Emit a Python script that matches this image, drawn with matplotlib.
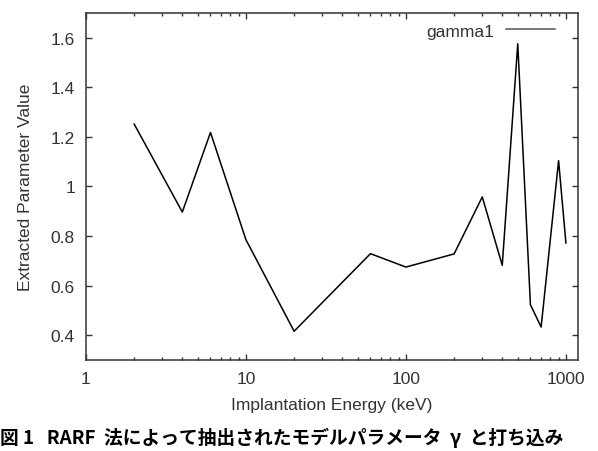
import matplotlib
matplotlib.use('Agg')
import matplotlib.pyplot as plt
from matplotlib.ticker import LogLocator, FixedLocator, NullFormatter

# gamma1 extracted vs implantation energy
energy = [2, 4, 6, 10, 20, 60, 100, 200, 300, 400, 500, 600, 700, 900, 1000]
gamma1 = [1.252, 0.897, 1.218, 0.785, 0.416, 0.729, 0.675, 0.728, 0.958,
          0.682, 1.576, 0.523, 0.433, 1.104, 0.772]

x_ticks = [1, 10, 100, 1000]
x_tick_labels = ['1', '10', '100', '1000']
y_ticks = [0.4, 0.6, 0.8, 1.0, 1.2, 1.4, 1.6]
y_tick_labels = ['0.4', '0.6', '0.8', '1', '1.2', '1.4', '1.6']

caption = '図 1   RARF  法によって抽出されたモデルパラメータ  γ  と打ち込み'

plt.rcParams['font.family'] = ['Liberation Sans', 'DejaVu Sans']

fig = plt.figure(figsize=(5.98, 4.52), dpi=100)
ax = fig.add_axes([86/598, 1 - 361/452, (578 - 86)/598, (361 - 14)/452])

ax.plot(energy, gamma1, color='black', linewidth=1.1, label='gamma1')

ax.set_xscale('log')
ax.set_xlim(1, 1190)
ax.set_ylim(0.3, 1.7)

ax.xaxis.set_major_locator(FixedLocator(x_ticks))
ax.set_xticklabels(x_tick_labels)
ax.xaxis.set_minor_locator(LogLocator(base=10, subs=range(2, 10)))
ax.xaxis.set_minor_formatter(NullFormatter())
ax.set_yticks(y_ticks)
ax.set_yticklabels(y_tick_labels)

ax.tick_params(which='both', direction='in', top=True, right=True,
               colors='#333333', labelcolor='#333333', labelsize=12.5, width=1.0)
ax.tick_params(which='major', length=4.5, pad=8)
ax.tick_params(which='minor', length=2.5)

for s in ax.spines.values():
    s.set_color('#333333')
    s.set_linewidth(1.1)

ax.set_xlabel('Implantation Energy (keV)', fontsize=12.5, color='#333333', labelpad=8)
ax.set_ylabel('Extracted Parameter Value', fontsize=12.5, color='#333333', labelpad=13)

leg = ax.legend(loc='upper right', bbox_to_anchor=(565/598, 1 - 14/452),
                bbox_transform=fig.transFigure, frameon=False, markerfirst=False,
                fontsize=12.5, handlelength=2.8, handletextpad=0.7,
                borderaxespad=0.2)
for t in leg.get_texts():
    t.set_color('#333333')
for h in leg.get_lines():
    h.set_color('#555555')

fig.text(0.0, 1 - 438/452, caption, fontsize=13.5, fontweight='bold',
         family=['Noto Sans CJK JP', 'DejaVu Sans'], ha='left', va='center')

fig.savefig('out.png', dpi=100)
